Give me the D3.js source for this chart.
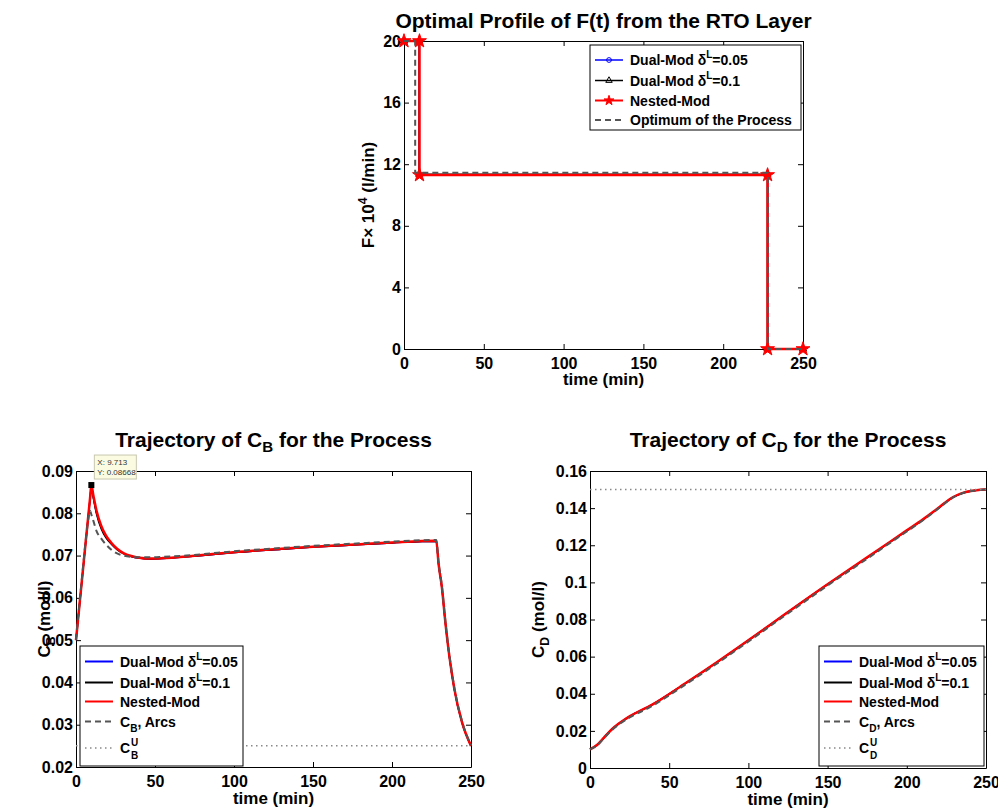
<!DOCTYPE html>
<html>
<head>
<meta charset="utf-8">
<script src="https://cdn.jsdelivr.net/npm/d3@7"></script>
<style>
body { margin: 0; background: #fff; }
svg { font-family: "Liberation Sans", Arial, sans-serif; font-weight: bold; }
.axis text { font: bold 16px "Liberation Sans", Arial, sans-serif; fill: #000; }
.axis path, .axis line { stroke: #000; stroke-width: 1; }
</style>
</head>
<body>
<svg id="fig" width="998" height="811"></svg>
<script>
// ---- tick labels
var timeTicks = [0, 50, 100, 150, 200, 250];
var fTicks = [0, 4, 8, 12, 16, 20];
var cbTicks = [0.02, 0.03, 0.04, 0.05, 0.06, 0.07, 0.08, 0.09];
var cdTicks = [0, 0.02, 0.04, 0.06, 0.08, 0.1, 0.12, 0.14, 0.16];

// ---- F(t) profile (x 10^4 l/min)
var fTimeDual05 = [0, 9.6, 9.6, 227.9, 227.9, 250];
var fDual05 = [20, 20, 11.32, 11.32, 0, 0];
var fTimeDual01 = [0, 9.5, 9.5, 227.7, 227.7, 250];
var fDual01 = [20, 20, 11.35, 11.35, 0, 0];
var fTimeNested = [0, 9.713, 9.713, 227.8, 227.8, 250];
var fNested = [20, 20, 11.3, 11.3, 0, 0];
var fTimeOpt = [0, 7, 7, 228, 228, 250];
var fOpt = [20, 20, 11.45, 11.45, 0, 0];

// ---- C_B trajectories (mol/l)
var cbTime = [0, 2, 4, 6, 8, 8.9, 9.713, 11, 13, 16, 19, 22.6, 26, 30, 35, 40, 47, 55, 70, 85, 100, 130, 150, 180, 200, 228, 229.5, 231.6, 233.7, 236.2, 239.4, 244.3, 250];
var cbDual05 = [0.0500, 0.0576, 0.0651, 0.0727, 0.0801, 0.0834, 0.0864, 0.0838, 0.0801, 0.0766, 0.0744, 0.0727, 0.0715, 0.0705, 0.0698, 0.0694, 0.0692, 0.0693, 0.0697, 0.0702, 0.0707, 0.0715, 0.0720, 0.0726, 0.0730, 0.0734, 0.0679, 0.0623, 0.0544, 0.0464, 0.0385, 0.0305, 0.0250];
var cbDual01 = [0.0500, 0.0576, 0.0651, 0.0727, 0.0800, 0.0833, 0.0862, 0.0835, 0.0798, 0.0763, 0.0742, 0.0726, 0.0714, 0.0705, 0.0698, 0.0694, 0.0692, 0.0693, 0.0697, 0.0702, 0.0707, 0.0715, 0.0720, 0.0726, 0.0730, 0.0734, 0.0679, 0.0623, 0.0544, 0.0464, 0.0385, 0.0305, 0.0250];
var cbNested = [0.0500, 0.0576, 0.0651, 0.0727, 0.0802, 0.0836, 0.08668, 0.0842, 0.0806, 0.0770, 0.0747, 0.0729, 0.0716, 0.0706, 0.0699, 0.0695, 0.0693, 0.0694, 0.0698, 0.0703, 0.0708, 0.0716, 0.0721, 0.0727, 0.0731, 0.0735, 0.0680, 0.0624, 0.0545, 0.0465, 0.0386, 0.0306, 0.0250];
var cbArcs = [0.0500, 0.0578, 0.0655, 0.0730, 0.0790, 0.0806, 0.0797, 0.0782, 0.0758, 0.0740, 0.0726, 0.0713, 0.0705, 0.0700, 0.0697, 0.0696, 0.0696, 0.0697, 0.0700, 0.0705, 0.0710, 0.0718, 0.0723, 0.0729, 0.0733, 0.0737, 0.0683, 0.0627, 0.0548, 0.0468, 0.0389, 0.0308, 0.0252];
var cbUpper = 0.025;

// ---- C_D trajectories (mol/l)
var cdTime = [0, 5, 9.5, 14, 18, 25, 39, 60, 81, 102, 123, 150, 175, 190, 200, 210, 216.7, 222, 229.3, 234, 238, 244, 250];
var cdDual05 = [0.0100, 0.0128, 0.0170, 0.0210, 0.0238, 0.0278, 0.0340, 0.0455, 0.0575, 0.0700, 0.0828, 0.0989, 0.1133, 0.1221, 0.1279, 0.1337, 0.1379, 0.1414, 0.1459, 0.1477, 0.1488, 0.1496, 0.1500];
var cdDual01 = [0.0100, 0.0128, 0.0170, 0.0210, 0.0238, 0.0278, 0.0340, 0.0455, 0.0575, 0.0700, 0.0828, 0.0989, 0.1133, 0.1221, 0.1279, 0.1337, 0.1379, 0.1414, 0.1459, 0.1477, 0.1488, 0.1496, 0.1500];
var cdNested = [0.0100, 0.0128, 0.0170, 0.0210, 0.0238, 0.0278, 0.0340, 0.0455, 0.0575, 0.0700, 0.0828, 0.0990, 0.1135, 0.1222, 0.1280, 0.1338, 0.1380, 0.1415, 0.1460, 0.1478, 0.1488, 0.1496, 0.1500];
var cdArcs = [0.0100, 0.0126, 0.0167, 0.0206, 0.0233, 0.0272, 0.0333, 0.0448, 0.0568, 0.0693, 0.0821, 0.0983, 0.1128, 0.1216, 0.1274, 0.1333, 0.1376, 0.1412, 0.1458, 0.1477, 0.1488, 0.1496, 0.1500];
var cdUpper = 0.15;

var svg = d3.select('#fig');
var fontStack = '"Liberation Sans", Arial, sans-serif';

// text with sub/superscripts: parts = [[text, 'sub'|'sup'|null], ...]
function rich(sel, parts) {
  var cur = 0;
  parts.forEach(function (p) {
    var target = p[1] === 'sub' ? 5 : (p[1] === 'sup' ? -7 : 0);
    var ts = sel.append('tspan').text(p[0]).attr('dy', target - cur);
    if (p[1]) ts.attr('font-size', '0.72em');
    cur = target;
  });
  return sel;
}

function panel(opt) {
  var g = svg.append('g').attr('transform', 'translate(' + opt.left + ',' + opt.top + ')');
  var w = opt.width, h = opt.height;
  var x = d3.scaleLinear().domain([0, 250]).range([0, w]);
  var y = d3.scaleLinear().domain(opt.yDomain).range([h, 0]);

  g.append('g').attr('class', 'axis').attr('transform', 'translate(0,' + h + ')')
    .call(d3.axisBottom(x).tickValues(timeTicks).tickSize(-5).tickSizeOuter(0).tickPadding(9).tickFormat(d3.format('d')));
  g.append('g').attr('class', 'axis')
    .call(d3.axisTop(x).tickValues(timeTicks).tickSize(-5).tickSizeOuter(0).tickFormat(''));
  g.append('g').attr('class', 'axis')
    .call(d3.axisLeft(y).tickValues(opt.yTicks).tickSize(-5).tickSizeOuter(0).tickPadding(3).tickFormat(opt.yFormat));
  g.append('g').attr('class', 'axis').attr('transform', 'translate(' + w + ',0)')
    .call(d3.axisRight(y).tickValues(opt.yTicks).tickSize(-5).tickSizeOuter(0).tickFormat(''));

  // title
  rich(svg.append('text')
    .attr('x', opt.left + w / 2).attr('y', opt.titleY)
    .attr('text-anchor', 'middle').attr('font-size', 21), opt.title);

  // x label
  svg.append('text')
    .attr('x', opt.left + w / 2).attr('y', opt.top + h + opt.xLabelOff)
    .attr('text-anchor', 'middle').attr('font-size', 17)
    .text('time (min)');

  // y label
  rich(svg.append('text')
    .attr('transform', 'translate(' + opt.yLabelX + ',' + (opt.top + h / 2) + ') rotate(-90)')
    .attr('text-anchor', 'middle').attr('font-size', 17), opt.yLabel);

  return { g: g, x: x, y: y, w: w, h: h };
}

function series(p, t, v, color, width, dash, curve) {
  var pts = t.map(function (d, i) { return [d, v[i]]; });
  var line = d3.line()
    .x(function (d) { return p.x(d[0]); })
    .y(function (d) { return p.y(d[1]); })
    .curve(curve || d3.curveLinear);
  p.g.append('path').datum(pts)
    .attr('d', line)
    .attr('fill', 'none')
    .attr('stroke', color)
    .attr('stroke-width', width)
    .attr('stroke-dasharray', dash || null)
    .attr('stroke-linejoin', 'round');
  return pts;
}

function markers(p, pts, type, color, fill, size) {
  p.g.selectAll(null).data(pts).enter().append('path')
    .attr('transform', function (d) { return 'translate(' + p.x(d[0]) + ',' + p.y(d[1]) + ')'; })
    .attr('d', d3.symbol().type(type).size(size))
    .attr('fill', fill)
    .attr('stroke', color)
    .attr('stroke-width', 1);
}

function legend(x0, y0, w, h, rows) {
  var g = svg.append('g').attr('transform', 'translate(' + x0 + ',' + y0 + ')');
  g.append('rect').attr('width', w).attr('height', h)
    .attr('fill', '#fff').attr('stroke', '#000').attr('stroke-width', 1);
  rows.forEach(function (r) {
    g.append('line').attr('x1', 5).attr('x2', 33).attr('y1', r.y).attr('y2', r.y)
      .attr('stroke', r.color).attr('stroke-width', r.width)
      .attr('stroke-dasharray', r.dash || null);
    if (r.symbol) {
      g.append('path').attr('transform', 'translate(19,' + r.y + ')')
        .attr('d', d3.symbol().type(r.symbol).size(r.size))
        .attr('fill', r.fill).attr('stroke', r.color).attr('stroke-width', 1);
    }
    var tx = g.append('text').attr('x', 40).attr('y', r.y + 5).attr('font-size', 14);
    if (r.stack) {
      tx.text('C');
      g.append('text').attr('x', 51).attr('y', r.y - 2).attr('font-size', 10).text(r.stack[0]);
      g.append('text').attr('x', 51).attr('y', r.y + 11).attr('font-size', 10).text(r.stack[1]);
    } else {
      rich(tx, r.parts);
    }
  });
}

var delta05 = [['Dual-Mod \u03b4', null], ['L', 'sup'], ['=0.05', null]];
var delta01 = [['Dual-Mod \u03b4', null], ['L', 'sup'], ['=0.1', null]];

// ===== top: F(t)
var pF = panel({
  left: 404, top: 41, width: 399, height: 308,
  yDomain: [0, 20], yTicks: fTicks, yFormat: d3.format('d'),
  title: [['Optimal Profile of F(t) from the RTO Layer', null]], titleY: 28,
  xLabelOff: 36, yLabelX: 374,
  yLabel: [['F\u00d7 10', null], ['4', 'sup'], [' (l/min)', null]]
});
var s1 = series(pF, fTimeDual05, fDual05, '#0000ff', 1.5);
markers(pF, s1, d3.symbolCircle, '#0000ff', 'none', 22);
var s2 = series(pF, fTimeDual01, fDual01, '#000', 1.5);
markers(pF, s2, d3.symbolTriangle, '#000', 'none', 22);
var s3 = series(pF, fTimeNested, fNested, '#ff0000', 2.5);
markers(pF, s3, d3.symbolStar, '#ff0000', '#ff0000', 60);
series(pF, fTimeOpt, fOpt, '#555', 2, '6,4');

legend(590, 45, 211, 85, [
  { y: 15, color: '#0000ff', width: 1.5, symbol: d3.symbolCircle, size: 18, fill: 'none', parts: delta05 },
  { y: 35.5, color: '#000', width: 1.5, symbol: d3.symbolTriangle, size: 18, fill: 'none', parts: delta01 },
  { y: 55.5, color: '#ff0000', width: 2, symbol: d3.symbolStar, size: 30, fill: '#ff0000', parts: [['Nested-Mod', null]] },
  { y: 75, color: '#555', width: 2, dash: '6,4', parts: [['Optimum of the Process', null]] }
]);

// ===== bottom-left: C_B
var pB = panel({
  left: 76, top: 471, width: 395, height: 296,
  yDomain: [0.02, 0.09], yTicks: cbTicks, yFormat: d3.format('.2f'),
  title: [['Trajectory of C', null], ['B', 'sub'], [' for the Process', null]], titleY: 447,
  xLabelOff: 37, yLabelX: 50,
  yLabel: [['C', null], ['B', 'sub'], [' (mol/l)', null]]
});
series(pB, cbTime, cbDual05, '#0000ff', 1.5, null, d3.curveMonotoneX);
series(pB, cbTime, cbDual01, '#000', 1.5, null, d3.curveMonotoneX);
series(pB, cbTime, cbNested, '#ff0000', 2.5, null, d3.curveMonotoneX);
series(pB, cbTime, cbArcs, '#555', 2, '6,4', d3.curveMonotoneX);
pB.g.append('line').attr('x1', pB.x(0)).attr('x2', pB.x(250))
  .attr('y1', pB.y(cbUpper)).attr('y2', pB.y(cbUpper))
  .attr('stroke', '#888').attr('stroke-width', 1.5).attr('stroke-dasharray', '1.5,3.5');

// data tip at the C_B peak
var tipX = pB.x(9.713), tipY = pB.y(0.08668);
pB.g.append('rect').attr('x', tipX - 3).attr('y', tipY - 3).attr('width', 6).attr('height', 6).attr('fill', '#000');
var tip = pB.g.append('g').attr('transform', 'translate(' + (tipX + 3) + ',' + (tipY - 30) + ')');
tip.append('rect').attr('width', 42).attr('height', 24)
  .attr('fill', '#fbfbe2').attr('stroke', '#c8c8b0').attr('stroke-width', 1);
tip.append('text').attr('x', 3).attr('y', 10).attr('font-size', 8).attr('font-weight', 'normal').attr('fill', '#333').text('X: 9.713');
tip.append('text').attr('x', 3).attr('y', 20).attr('font-size', 8).attr('font-weight', 'normal').attr('fill', '#333').text('Y: 0.08668');

legend(80, 646, 163, 120, [
  { y: 15.5, color: '#0000ff', width: 2, parts: delta05 },
  { y: 36.5, color: '#000', width: 2, parts: delta01 },
  { y: 55.5, color: '#ff0000', width: 2, parts: [['Nested-Mod', null]] },
  { y: 75.5, color: '#555', width: 2, dash: '6,4', parts: [['C', null], ['B', 'sub'], [', Arcs', null]] },
  { y: 102, color: '#888', width: 1.5, dash: '1.5,3.5', stack: ['U', 'B'] }
]);

// ===== bottom-right: C_D
var pD = panel({
  left: 590, top: 471, width: 396, height: 297,
  yDomain: [0, 0.16], yTicks: cdTicks, yFormat: function (d) { return String(+d.toFixed(2)); },
  title: [['Trajectory of C', null], ['D', 'sub'], [' for the Process', null]], titleY: 447,
  xLabelOff: 37, yLabelX: 544,
  yLabel: [['C', null], ['D', 'sub'], [' (mol/l)', null]]
});
series(pD, cdTime, cdDual05, '#0000ff', 1.5, null, d3.curveMonotoneX);
series(pD, cdTime, cdDual01, '#000', 1.5, null, d3.curveMonotoneX);
series(pD, cdTime, cdNested, '#ff0000', 2.5, null, d3.curveMonotoneX);
series(pD, cdTime, cdArcs, '#555', 2, '6,4', d3.curveMonotoneX);
pD.g.append('line').attr('x1', pD.x(0)).attr('x2', pD.x(250))
  .attr('y1', pD.y(cdUpper)).attr('y2', pD.y(cdUpper))
  .attr('stroke', '#888').attr('stroke-width', 1.5).attr('stroke-dasharray', '1.5,3.5');

legend(819, 646, 165, 120, [
  { y: 15.5, color: '#0000ff', width: 2, parts: delta05 },
  { y: 36.5, color: '#000', width: 2, parts: delta01 },
  { y: 55.5, color: '#ff0000', width: 2, parts: [['Nested-Mod', null]] },
  { y: 75.5, color: '#555', width: 2, dash: '6,4', parts: [['C', null], ['D', 'sub'], [', Arcs', null]] },
  { y: 102, color: '#888', width: 1.5, dash: '1.5,3.5', stack: ['U', 'D'] }
]);
</script>
</body>
</html>
